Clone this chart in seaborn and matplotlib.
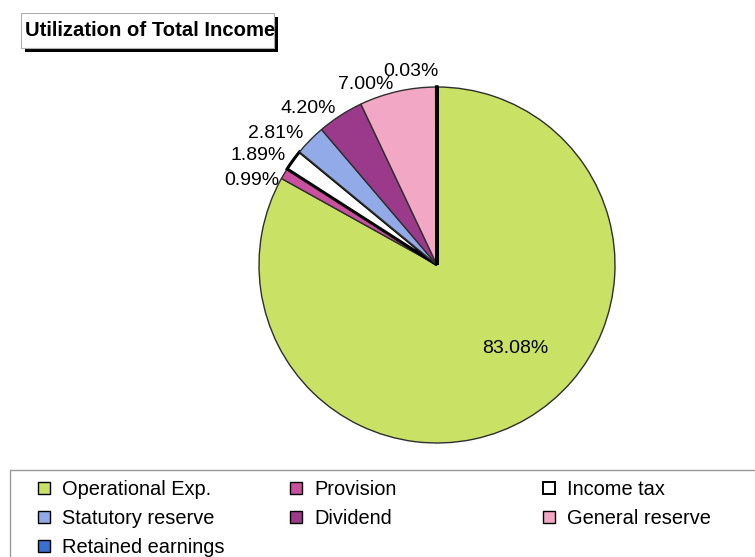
import matplotlib
matplotlib.use("Agg")
import matplotlib.pyplot as plt
import seaborn as sns
from matplotlib.patches import Rectangle, Patch

# Shares of total income, in percent, in drawing order (clockwise from 12 o'clock)
categories = ["Operational Exp.", "Provision", "Income tax", "Statutory reserve",
              "Dividend", "General reserve", "Retained earnings"]
shares = [83.08, 0.99, 1.89, 2.81, 4.20, 7.00, 0.03]
slice_colors = ["#c9e265", "#c8509e", "#ffffff", "#92aae8",
                "#9b3a8b", "#f2a8c4", "#3a6fd2"]

# legend layout: three columns, read row by row
legend_columns = [[0, 3, 6], [1, 4], [2, 5]]

sns.set_theme(style="white")
plt.rcParams["font.family"] = ["Liberation Sans", "DejaVu Sans"]
plt.rcParams["text.color"] = "black"

W, H = 755, 557
fig = plt.figure(figsize=(W / 100, H / 100), dpi=100)
fig.patch.set_facecolor("white")


def fx(px):
    return px / W


def fy(py):
    return 1 - py / H


# ---- pie ----
cx, cy, r = 437, 265, 178
ax = fig.add_axes([fx(cx - r), fy(cy + r), 2 * r / W, 2 * r / H])
pal = sns.color_palette(slice_colors)
wedges, texts = ax.pie(
    shares,
    colors=pal,
    startangle=90,
    counterclock=False,
    labels=[f"{v:.2f}%" for v in shares],
    labeldistance=1.05,
    wedgeprops=dict(edgecolor="#2e2e2e", linewidth=1.0),
    textprops=dict(fontsize=14, color="black"),
)
ax.set_xlim(-1, 1)
ax.set_ylim(-1, 1)
ax.set_aspect("equal")
ax.axis("off")

# white slice and the thin sliver carry a heavy black outline
wedges[2].set_edgecolor("black")
wedges[2].set_linewidth(2.2)
wedges[6].set_edgecolor("black")
wedges[6].set_linewidth(2.5)

# the dominant share is labelled inside its slice
texts[0].set_position((0.44, -0.47))
texts[0].set_ha("center")

# small nudges so the crowded outside labels stay apart
px_unit = 1.0 / r
x, y = texts[1].get_position()
texts[1].set_position((x + 3 * px_unit, y - 11 * px_unit))
x, y = texts[6].get_position()
texts[6].set_position((x + 2 * px_unit, y + 7 * px_unit))
x, y = texts[5].get_position()
texts[5].set_position((x - 3 * px_unit, y - 2 * px_unit))

# ---- title box with drop shadow ----
fig.add_artist(Rectangle((fx(25), fy(52)), fx(278) - fx(25), fy(17) - fy(52),
                         transform=fig.transFigure, facecolor="black",
                         edgecolor="none", zorder=1))
fig.add_artist(Rectangle((fx(21), fy(48)), fx(274) - fx(21), fy(13) - fy(48),
                         transform=fig.transFigure, facecolor="white",
                         edgecolor="#b0b0b0", linewidth=0.8, zorder=2))
fig.text(fx(25), fy(30), "Utilization of Total Income", fontsize=14.6,
         fontweight="bold", color="black", ha="left", va="center", zorder=3)

# ---- legend frame ----
fig.add_artist(Rectangle((fx(10), fy(565)), fx(770) - fx(10), fy(470) - fy(565),
                         transform=fig.transFigure, facecolor="white",
                         edgecolor="#9a9a9a", linewidth=1.0, zorder=0))

col_x = [38, 290, 543]
for x0, idxs in zip(col_x, legend_columns):
    handles = [Patch(facecolor=slice_colors[i], edgecolor="black",
                     linewidth=1.4 if i == 2 else 1.0) for i in idxs]
    labels = [categories[i] for i in idxs]
    leg = fig.legend(handles, labels, loc="upper left",
                     bbox_to_anchor=(fx(x0), fy(480)),
                     frameon=False, fontsize=14.4, borderpad=0,
                     borderaxespad=0, handlelength=0.6, handleheight=0.6,
                     handletextpad=0.6, labelspacing=0.5)
    for t in leg.get_texts():
        t.set_color("black")

fig.savefig("out.png", dpi=100)
